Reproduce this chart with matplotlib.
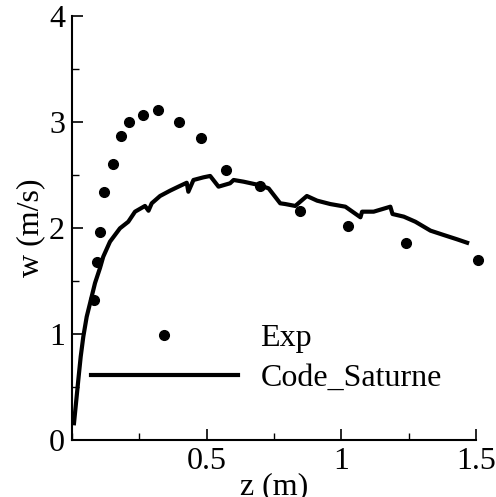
import matplotlib
matplotlib.use('Agg')
import matplotlib.pyplot as plt
from matplotlib.ticker import MultipleLocator

plt.rcParams['font.family'] = 'Liberation Serif'
plt.rcParams['font.size'] = 23

# experimental points
exp_z = [0.081, 0.094, 0.103, 0.120, 0.154, 0.181, 0.213, 0.263, 0.321, 0.397,
         0.480, 0.572, 0.699, 0.848, 1.023, 1.241, 1.508]
exp_w = [1.32, 1.68, 1.965, 2.34, 2.60, 2.87, 3.00, 3.07, 3.11, 3.00,
         2.85, 2.55, 2.40, 2.16, 2.02, 1.86, 1.70]

# Code_Saturne profile
cs_z = [0.0074, 0.0149, 0.0234, 0.0323, 0.042, 0.0546, 0.070, 0.0855, 0.104, 0.116,
        0.141, 0.178, 0.209, 0.234, 0.271, 0.284, 0.296, 0.327, 0.364, 0.395,
        0.426, 0.432, 0.451, 0.488, 0.513, 0.544, 0.587, 0.600, 0.637, 0.693,
        0.730, 0.773, 0.792, 0.829, 0.872, 0.910, 0.959, 1.015, 1.071, 1.077,
        1.120, 1.182, 1.190, 1.232, 1.275, 1.331, 1.380, 1.430, 1.467]
cs_w = [0.158, 0.349, 0.566, 0.786, 0.975, 1.163, 1.321, 1.481, 1.623, 1.729,
        1.871, 1.997, 2.059, 2.154, 2.208, 2.163, 2.233, 2.302, 2.352, 2.390,
        2.427, 2.342, 2.453, 2.478, 2.491, 2.390, 2.422, 2.453, 2.437, 2.406,
        2.374, 2.233, 2.226, 2.208, 2.302, 2.258, 2.226, 2.201, 2.101, 2.154,
        2.154, 2.201, 2.132, 2.107, 2.059, 1.975, 1.934, 1.893, 1.861]

fig = plt.figure(figsize=(4.96, 4.97), dpi=100)
ax = fig.add_axes([72/496, 1 - 440/497, 404/496, 424/497])

ax.plot(exp_z, exp_w, 'o', color='black', markersize=7, clip_on=False, label='Exp')
ax.plot(cs_z, cs_w, '-', color='black', linewidth=3, label='Code_Saturne')

ax.set_xlim(0, 1.5)
ax.set_ylim(0, 4)
ax.spines['top'].set_visible(False)
ax.spines['right'].set_visible(False)
for s in ['left', 'bottom']:
    ax.spines[s].set_linewidth(1.5)

ax.set_xticks([0.5, 1, 1.5])
ax.set_xticklabels(['0.5', '1', '1.5'])
ax.set_yticks([0, 1, 2, 3, 4])
ax.xaxis.set_minor_locator(MultipleLocator(0.25))
ax.yaxis.set_minor_locator(MultipleLocator(0.5))
ax.tick_params(which='major', direction='in', length=8, width=1.2, pad=5)
ax.tick_params(which='minor', direction='in', length=5, width=1.0)

ax.set_xlabel('z (m)', labelpad=-3)
ax.set_ylabel('w (m/s)', labelpad=3)

ax.legend(loc='center left', bbox_to_anchor=(0.047, 0.192), frameon=False,
          borderpad=0, borderaxespad=0, handlelength=4.6, handletextpad=0.7,
          labelspacing=0.32, numpoints=1)

fig.savefig('out.png', dpi=100)
